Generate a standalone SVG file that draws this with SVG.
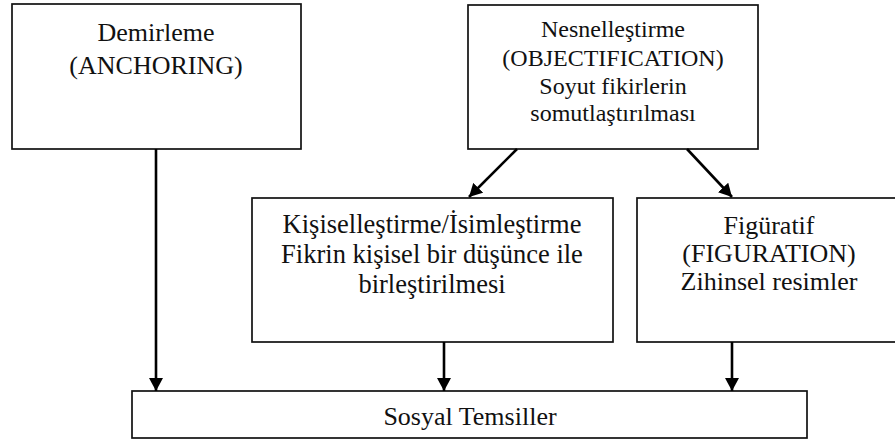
<svg xmlns="http://www.w3.org/2000/svg" width="895" height="443" viewBox="0 0 895 443">
<defs>
<style>
.box{fill:#fff;stroke:#111;stroke-width:1.7}
.t{fill:#111;text-anchor:middle}
.c{stroke:#000;stroke-width:2.6;fill:none;marker-end:url(#ah)}
</style>
<marker id="ah" markerUnits="userSpaceOnUse" markerWidth="14" markerHeight="14" refX="13" refY="7" orient="auto">
<path d="M0,0 L13,7 L0,14 Z" fill="#000"/>
</marker>
</defs>
<rect width="895" height="443" fill="#fff"/>
<g font-family="'Liberation Serif', Tinos, 'Times New Roman', 'DejaVu Serif', serif">
<g id="n1">
<rect class="box" x="12" y="4" width="289" height="145"/>
<text class="t" font-size="26" x="156" y="41">Demirleme</text>
<text class="t" font-size="26" x="156" y="74">(ANCHORING)</text>
</g>
<g id="n2">
<rect class="box" x="468" y="5" width="290" height="144"/>
<text class="t" font-size="24" x="613" y="37">Nesnelleştirme</text>
<text class="t" font-size="24" x="613" y="66">(OBJECTIFICATION)</text>
<text class="t" font-size="24" x="613" y="94">Soyut fikirlerin</text>
<text class="t" font-size="24" x="613" y="121">somutlaştırılması</text>
</g>
<g id="n3">
<rect class="box" x="252" y="198" width="361" height="144"/>
<text class="t" font-size="26.5" x="432" y="233">Kişiselleştirme/İsimleştirme</text>
<text class="t" font-size="26.5" x="432" y="263">Fikrin kişisel bir düşünce ile</text>
<text class="t" font-size="26.5" x="432" y="293">birleştirilmesi</text>
</g>
<g id="n4">
<rect class="box" x="637" y="198" width="264" height="144"/>
<text class="t" font-size="26" x="769" y="234">Figüratif</text>
<text class="t" font-size="26" x="769" y="262">(FIGURATION)</text>
<text class="t" font-size="26" x="769" y="290">Zihinsel resimler</text>
</g>
<g id="n5">
<rect class="box" x="132" y="391" width="675" height="47"/>
<text class="t" font-size="26" x="470" y="425">Sosyal Temsiller</text>
</g>
</g>
<g id="connectors">
<line class="c" x1="156" y1="149" x2="156" y2="391"/>
<line class="c" x1="517" y1="149" x2="469" y2="197"/>
<line class="c" x1="687" y1="149" x2="732" y2="197"/>
<line class="c" x1="444" y1="342" x2="444" y2="391"/>
<line class="c" x1="732" y1="342" x2="732" y2="391"/>
</g>
</svg>
